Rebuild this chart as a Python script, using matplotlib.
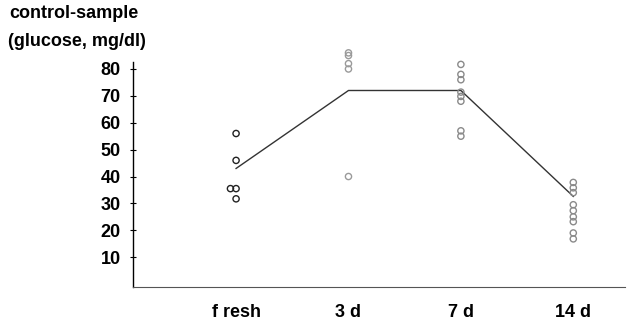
import matplotlib
matplotlib.use("Agg")
import matplotlib.pyplot as plt
import numpy as np

plt.rcParams['font.family'] = ['Liberation Sans', 'DejaVu Sans']

categories = ["f resh", "3 d", "7 d", "14 d"]
fresh_vals = [56, 46, 35.5, 35.5, 31.7]
d3_vals = [86, 85, 82, 80, 40]
d7_vals = [81.7, 78, 76, 71.4, 69.8, 68, 57, 55]
d14_vals = [37.8, 35.8, 34, 29.5, 27.3, 25, 23.2, 19, 16.8]
means = [43, 72, 72, 32.6]
yticks = [10, 20, 30, 40, 50, 60, 70, 80]

groups = [fresh_vals, d3_vals, d7_vals, d14_vals]
marker_colors = ["#222222", "#9a9a9a", "#8a8a8a", "#8a8a8a"]

fig = plt.figure(figsize=(6.28, 3.28), dpi=100)
ax = fig.add_axes([133/628, 1-287/328, (625-133)/628, (287-62)/328])

xpos = np.arange(len(categories))
for i, vals in enumerate(groups):
    xs = []
    seen = {}
    for v in vals:
        n = seen.get(v, 0)
        seen[v] = n + 1
        xs.append(xpos[i] - 0.05 * n)
    ax.scatter(xs, vals, s=20, facecolors='none', edgecolors=marker_colors[i],
               linewidths=1.0, clip_on=False, zorder=3)

ax.plot(xpos, means, color="#333333", lw=1.0, zorder=2)

ax.set_xlim(-0.917, 3.46)
ax.set_ylim(-1.1, 82.6)
ax.set_yticks(yticks)
ax.set_yticklabels([str(t) for t in yticks], fontsize=13, fontweight='bold')
ax.set_xticks(xpos)
ax.set_xticklabels(categories, fontsize=13, fontweight='bold')
ax.tick_params(axis='x', length=0, pad=12)
ax.tick_params(axis='y', direction='inout', length=4, width=0.8, pad=7)

for s in ['top', 'right']:
    ax.spines[s].set_visible(False)
ax.spines['left'].set_linewidth(1.0)
ax.spines['bottom'].set_linewidth(0.8)
ax.spines['bottom'].set_color('#555555')

fig.text(9/628, 1-14/328, "control-sample", fontsize=13, fontweight='bold', va='center', ha='left')
fig.text(8/628, 1-41/328, "(glucose, mg/dl)", fontsize=13, fontweight='bold', va='center', ha='left')

fig.savefig("out.png", dpi=100)
